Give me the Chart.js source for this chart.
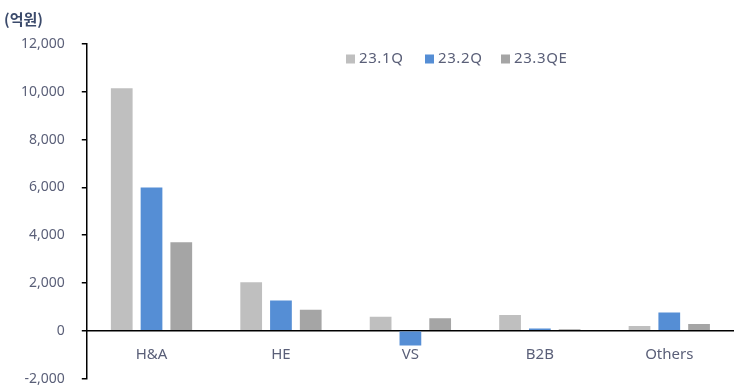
<!DOCTYPE html>
<html>
<head>
<meta charset="utf-8">
<script src="https://cdn.jsdelivr.net/npm/chart.js@4.4.0/dist/chart.umd.min.js"></script>
<style>
  html, body { margin:0; padding:0; background:#fff; overflow:hidden; }
  #wrap { width:734px; height:404px; position:relative; }
</style>
</head>
<body>
<div id="wrap"><canvas id="chart"></canvas></div>
<script>
// 부문별 영업이익 (억원)
const categories = ['H&A', 'HE', 'VS', 'B2B', 'Others'];
const seriesNames = ['23.1Q', '23.2Q', '23.3QE'];
const q1 = [10150, 2030, 590, 660, 200];
const q2 = [6000, 1270, -610, 100, 770];
const q3 = [3700, 880, 520, 70, 280];
const colors = ['#BFBFBF', '#558ED5', '#A5A5A5'];
const yMin = -2000, yMax = 12000, yStep = 2000;

const TEXT = '#5a5f78';

// 범례를 플롯 안쪽 위에 그림
const innerLegend = {
  id: 'innerLegend',
  afterDraw(chart){
    const ctx = chart.ctx;
    const xs = [346, 425, 501];
    const y = 59;
    ctx.save();
    ctx.font = '15px "Noto Sans"';
    ctx.letterSpacing = '0.6px';
    ctx.textBaseline = 'middle';
    chart.data.datasets.forEach((ds, i) => {
      ctx.fillStyle = ds.backgroundColor;
      ctx.fillRect(xs[i], y - 4.5, 9, 9);
      ctx.fillStyle = TEXT;
      ctx.fillText(ds.label, xs[i] + 13, y);
    });
    ctx.restore();
  }
};

new Chart(document.getElementById('chart'), {
  type: 'bar',
  data: {
    labels: categories,
    datasets: [
      { label: seriesNames[0], data: q1, backgroundColor: colors[0] },
      { label: seriesNames[1], data: q2, backgroundColor: colors[1] },
      { label: seriesNames[2], data: q3, backgroundColor: colors[2] }
    ]
  },
  options: {
    responsive: true,
    maintainAspectRatio: false,
    animation: false,
    datasets: { bar: { categoryPercentage: 0.69, barPercentage: 0.73 } },
    layout: { padding: { left: 4, right: 0, top: 10, bottom: 0 } },
    plugins: {
      legend: { display: false },
      tooltip: { enabled: false },
      title: {
        display: true,
        text: '(억원)',
        align: 'start',
        color: '#3b4a6b',
        font: { family: '"Noto Sans CJK KR"', size: 15, weight: 'bold' },
        padding: { top: 0, bottom: 16 }
      }
    },
    scales: {
      x: {
        position: { y: 0 },
        grid: { display: false },
        border: { display: true, color: '#000', width: 1.5 },
        ticks: { color: TEXT, font: { family: '"Noto Sans"', size: 15 }, padding: 7 }
      },
      y: {
        min: yMin, max: yMax,
        ticks: { stepSize: yStep, color: TEXT, font: { family: '"Noto Sans"', size: 14 }, padding: 17 },
        grid: { drawOnChartArea: false, drawTicks: true, tickLength: 5, color: '#000', lineWidth: 1.5 },
        border: { display: true, color: '#000', width: 1.5 }
      }
    }
  },
  plugins: [innerLegend]
});
</script>
</body>
</html>
